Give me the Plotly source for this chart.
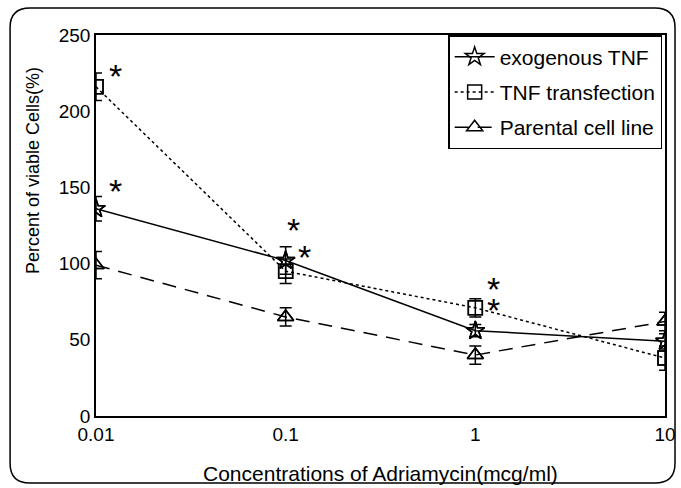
import math
import plotly.graph_objects as go

conc = [0.01, 0.1, 1, 10]
exo_tnf = [136, 102, 56, 49]
exo_err = [8, 9, 4, 5]
tnf_trans = [216, 95, 71, 38]
tnf_err = [9, 8, 6, 8]
parental = [99, 65, 40, 62]
par_err = [9, 6, 6, 6]

star_x = [0.0127, 0.0127, 0.11, 0.125, 1.25, 1.25]
star_y = [226, 150, 125, 107, 86, 72]

font = "Liberation Sans, Arial, sans-serif"

fig = go.Figure()

def add(name, y, err, symbol, dash):
    fig.add_trace(go.Scatter(
        x=conc, y=y, name=name, mode="lines+markers", legendgroup=name,
        line=dict(color="black", width=1.5, dash=dash),
        marker=dict(symbol=symbol, size=14, color="black",
                    line=dict(color="black", width=1.5)),
    ))
    fig.add_trace(go.Scatter(
        x=conc, y=y, mode="markers", showlegend=False, legendgroup=name,
        marker=dict(symbol=symbol, size=14, color="black",
                    line=dict(color="black", width=1.5)),
        error_y=dict(type="data", array=err, visible=True, color="black",
                     thickness=1.5, width=6),
        hoverinfo="skip",
    ))

add("exogenous TNF", exo_tnf, exo_err, "star-open", "solid")
add("TNF transfection", tnf_trans, tnf_err, "square-open", "3px,3px")
add("Parental cell line", parental, par_err, "triangle-up-open", "14px,9px")

annotations = [dict(x=math.log10(sx), y=sy, xref="x", yref="y",
                    text="*", showarrow=False, yshift=-4,
                    font=dict(family=font, size=34, color="black"))
               for sx, sy in zip(star_x, star_y)]

annotations.append(dict(x=-0.1107, y=0.643, xref="paper", yref="paper",
                        xanchor="center", yanchor="middle",
                        text="Percent of viable Cells(%)", textangle=-90,
                        showarrow=False, font=dict(family=font, size=18)))
annotations.append(dict(x=0.5, y=-0.15, xref="paper", yref="paper",
                        xanchor="center", yanchor="middle",
                        text="Concentrations of Adriamycin(mcg/ml)",
                        showarrow=False, font=dict(family=font, size=21)))

fig.update_layout(
    width=681, height=488,
    margin=dict(l=96, r=16, t=35, b=72),
    paper_bgcolor="white", plot_bgcolor="white",
    font=dict(family=font, size=16, color="black"),
    showlegend=True,
    legend=dict(x=0.995, xanchor="right", y=1, yanchor="top",
                bordercolor="black", borderwidth=1.5, bgcolor="white",
                font=dict(size=21), itemwidth=40, tracegroupgap=5),
    xaxis=dict(type="log", range=[-2, 1], tickvals=conc,
               ticktext=["0.01", "0.1", "1", "10"], automargin=False,
               showgrid=False, zeroline=False, showline=True,
               linecolor="black", linewidth=1.5, mirror=True,
               ticks="", tickfont=dict(size=19)),
    yaxis=dict(range=[0, 250], tickvals=[0, 50, 100, 150, 200, 250],
               automargin=False,
               showgrid=False, zeroline=False, showline=True,
               linecolor="black", linewidth=1.5, mirror=True,
               ticks="", tickfont=dict(size=19)),
    annotations=annotations,
    shapes=[dict(type="path", xref="paper", yref="paper",
                 path="M -0.151,1.02 L -0.151,-0.124 Q -0.151,-0.176 -0.116,-0.176 "
                      "L 0.982,-0.176 Q 1.0176,-0.176 1.0176,-0.124 "
                      "L 1.0176,1.02 Q 1.0176,1.071 0.982,1.071 "
                      "L -0.116,1.071 Q -0.151,1.071 -0.151,1.02 Z",
                 line=dict(color="black", width=1.5))],
)

fig.write_html("out.html")
